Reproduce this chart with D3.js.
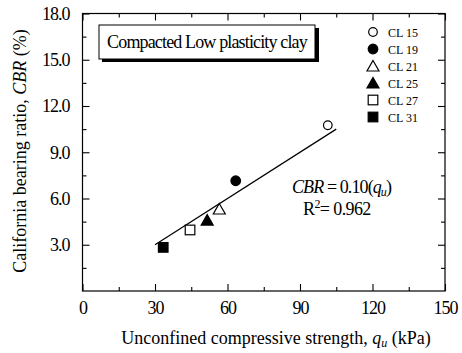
<!DOCTYPE html>
<html><head><meta charset="utf-8">
<script src="https://cdn.jsdelivr.net/npm/d3@7"></script>
</head>
<body style="margin:0;background:#fff"><svg id="c" width="462" height="353"></svg>
<script>
const series = ["CL 15","CL 19","CL 21","CL 25","CL 27","CL 31"];
const qu = [101.5, 63.4, 56.6, 51.6, 44.5, 33.4];
const cbr = [10.75, 7.15, 5.32, 4.6, 3.96, 2.83];
const symbols = ["circle-open","circle","triangle-open","triangle","square-open","square"];
const xTicks = [0,30,60,90,120,150];
const yTicks = [3,6,9,12,15,18];
const fitX = [30, 105];
const slope = 0.10;

const FF = "Liberation Serif";
const svg = d3.select("#c");
const m = {l:82.5, r:445, t:13.5, b:291};
const x = d3.scaleLinear().domain([0,150]).range([m.l,m.r]);
const y = d3.scaleLinear().domain([0,18]).range([m.b,m.t]);

svg.append("rect").attr("x",m.l).attr("y",m.t).attr("width",m.r-m.l).attr("height",m.b-m.t)
  .attr("fill","none").attr("stroke","#000").attr("stroke-width",1.2);

const minorX = d3.range(15,150,30), minorY = d3.range(1.5,18,3);
function axisG(axis, tr){
  const g = svg.append("g").attr("transform",tr).call(axis);
  g.attr("font-family",FF).attr("font-size",18);
  g.select(".domain").remove();
  g.selectAll("line").attr("stroke","#000").attr("stroke-width",1.1);
  return g;
}
const gb = axisG(d3.axisBottom(x).tickValues(xTicks).tickSize(-7).tickPadding(10).tickFormat(d3.format("d")), `translate(0,${m.b})`);
gb.selectAll("text").attr("font-family",FF).attr("font-size",18).attr("letter-spacing",-1);
axisG(d3.axisBottom(x).tickValues(minorX).tickSize(-4).tickFormat(""), `translate(0,${m.b})`);
axisG(d3.axisTop(x).tickValues(xTicks).tickSize(-7).tickFormat(""), `translate(0,${m.t})`);
axisG(d3.axisTop(x).tickValues(minorX).tickSize(-4).tickFormat(""), `translate(0,${m.t})`);
const gl = axisG(d3.axisLeft(y).tickValues(yTicks).tickSize(-7).tickPadding(13).tickFormat(d3.format(".1f")), `translate(${m.l},0)`);
gl.selectAll("text").attr("font-family",FF).attr("font-size",18).attr("letter-spacing",-1);
axisG(d3.axisLeft(y).tickValues(minorY).tickSize(-4).tickFormat(""), `translate(${m.l},0)`);
axisG(d3.axisRight(y).tickValues(yTicks).tickSize(-7).tickFormat(""), `translate(${m.r},0)`);
axisG(d3.axisRight(y).tickValues(minorY).tickSize(-4).tickFormat(""), `translate(${m.r},0)`);

const xt = svg.append("text").attr("font-family",FF).attr("x",276).attr("y",344).attr("text-anchor","middle").attr("font-size",18);
xt.append("tspan").text("Unconfined compressive strength,  ");
xt.append("tspan").attr("font-style","italic").text("q");
xt.append("tspan").attr("font-style","italic").attr("font-size",12).attr("dy",3).text("u");
xt.append("tspan").attr("dy",-3).text(" (kPa)");

const yt = svg.append("text").attr("font-family",FF).attr("transform",`translate(26,151) rotate(-90)`).attr("text-anchor","middle").attr("font-size",18);
yt.append("tspan").text("California bearing ratio, ");
yt.append("tspan").attr("font-style","italic").text("CBR");
yt.append("tspan").text(" (%)");

svg.append("rect").attr("x",102).attr("y",28).attr("width",217).attr("height",34).attr("fill","#000");
svg.append("rect").attr("x",99).attr("y",25).attr("width",216).attr("height",34).attr("fill","#fff").attr("stroke","#000").attr("stroke-width",1);
svg.append("text").attr("font-family",FF).attr("x",207).attr("y",48).attr("text-anchor","middle").attr("font-size",18).attr("letter-spacing",-0.85).text("Compacted Low plasticity clay");

svg.append("line").attr("x1",x(fitX[0])).attr("y1",y(slope*fitX[0])).attr("x2",x(fitX[1])).attr("y2",y(slope*fitX[1]))
  .attr("stroke","#000").attr("stroke-width",1.2);

function drawSym(g, s, cx, cy){
  const open = s.endsWith("open");
  const type = s.replace("-open","");
  const st = {fill: open?"#fff":"#000", stroke:"#000", "stroke-width":1.2};
  let el;
  if(type==="circle") el = g.append("circle").attr("cx",cx).attr("cy",cy).attr("r",open?4.3:4.8);
  else if(type==="square") el = g.append("rect").attr("x",cx-4.8).attr("y",cy-4.8).attr("width",9.6).attr("height",9.6);
  else el = g.append("path").attr("d",`M${cx},${cy-5.5}L${cx+6},${cy+5}L${cx-6},${cy+5}Z`);
  Object.entries(st).forEach(([k,v])=>el.attr(k,v));
}
const pts = svg.append("g");
series.forEach((s,i)=>drawSym(pts, symbols[i], x(qu[i]), y(cbr[i])));

const lg = svg.append("g");
series.forEach((s,i)=>{
  const yy = 32 + i*17;
  drawSym(lg, symbols[i], 373, yy);
  lg.append("text").attr("font-family",FF).attr("x",388).attr("y",yy+4.5).attr("font-size",12).text(s);
});

const eq = svg.append("text").attr("font-family",FF).attr("x",292).attr("y",193).attr("font-size",18).attr("letter-spacing",-0.9);
eq.append("tspan").attr("font-style","italic").text("CBR");
eq.append("tspan").text(" = 0.10(");
eq.append("tspan").attr("font-style","italic").text("q");
eq.append("tspan").attr("font-style","italic").attr("font-size",12).attr("dy",3).text("u");
eq.append("tspan").attr("dy",-3).text(")");
const r2 = svg.append("text").attr("font-family",FF).attr("x",303).attr("y",215).attr("font-size",18).attr("letter-spacing",-0.6);
r2.append("tspan").text("R");
r2.append("tspan").attr("font-size",12).attr("dy",-7).text("2");
r2.append("tspan").attr("dy",7).text("= 0.962");

svg.selectAll("text").attr("font-family",FF).attr("fill","#000");
</script></body></html>
